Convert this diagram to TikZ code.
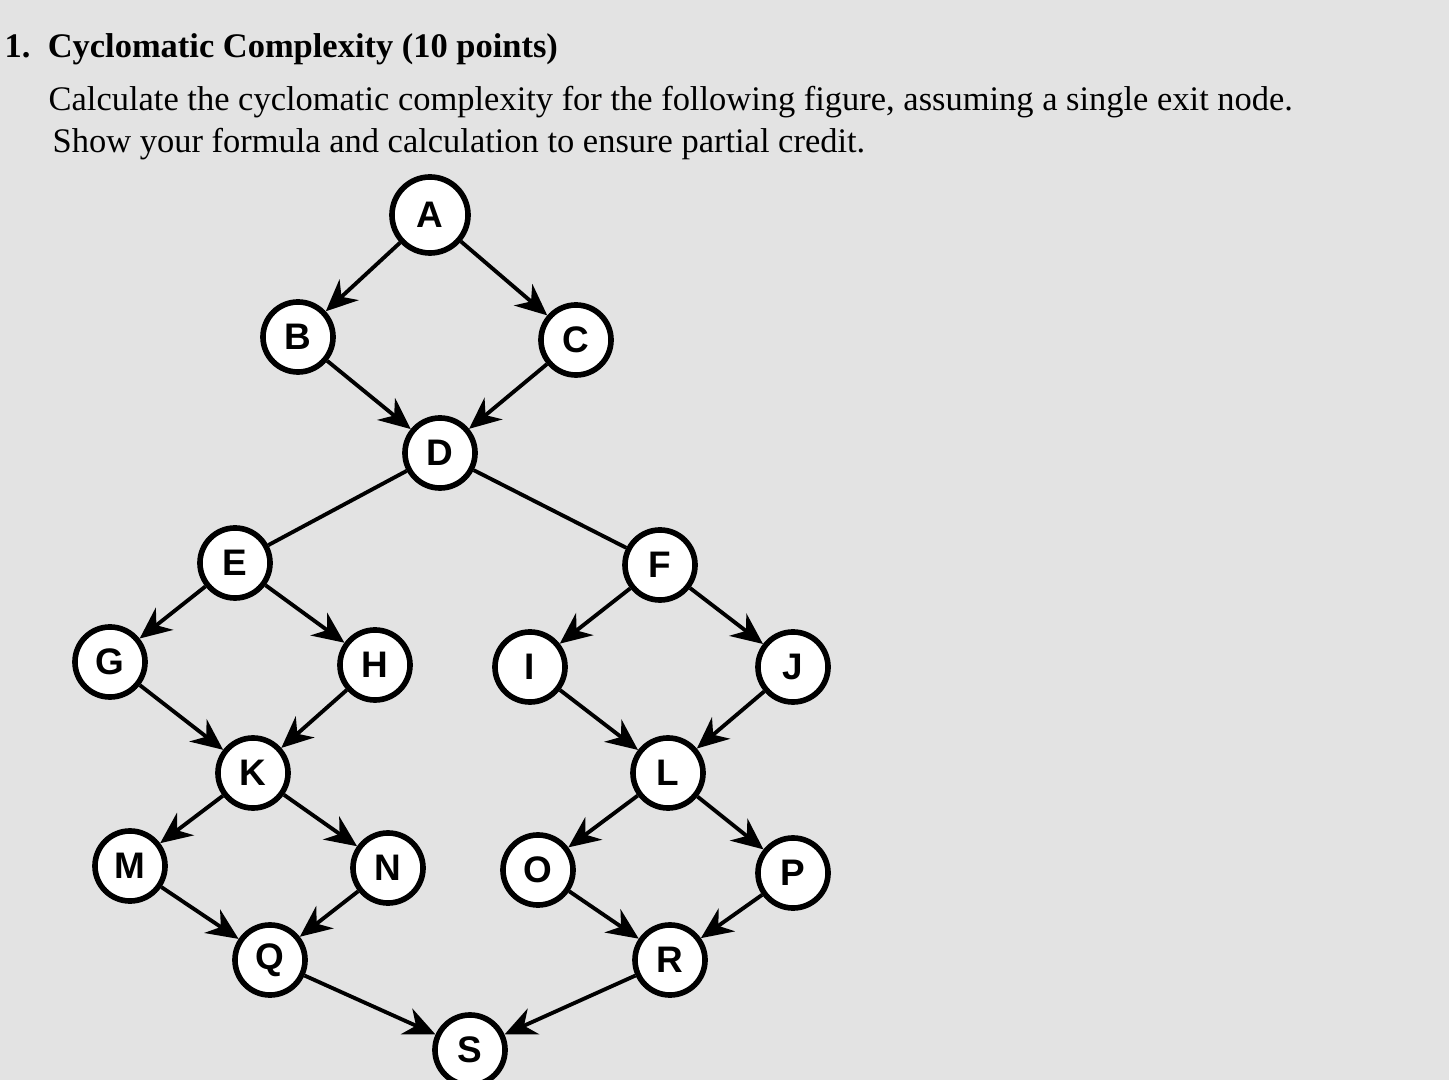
\documentclass[tikz,border=0pt]{standalone}
\usepackage{fontspec}
\setmainfont{Liberation Serif}
\newfontfamily\nodefont{Liberation Sans}
\usetikzlibrary{arrows.meta}
\begin{document}
\begin{tikzpicture}[x=0.01cm,y=-0.01cm,
  vtx/.style={circle,draw=black,line width=1.6pt,fill=white,minimum size=0.7cm,inner sep=0pt,font=\nodefont\bfseries\fontsize{10.5}{10.5}\selectfont},
  edge/.style={line width=1.1pt,-{Stealth[length=9pt,width=8pt]}},
  plain/.style={line width=1.1pt}]
\fill[gray!22] (0,0) rectangle (1449,1080);
\useasboundingbox (0,0) rectangle (1449,1080);
\node[anchor=base west,font=\bfseries\fontsize{9.8}{10}\selectfont,inner sep=0pt] (t0) at (4,58) {1.\ \ Cyclomatic Complexity (10 points)};
\node[anchor=base west,font=\fontsize{9.8}{10}\selectfont,inner sep=0pt] (t1) at (48,111) {Calculate the cyclomatic complexity for the following figure, assuming a single exit node.};
\node[anchor=base west,font=\fontsize{9.8}{10}\selectfont,inner sep=0pt] (t2) at (52,153) {Show your formula and calculation to ensure partial credit.};
\node[vtx,minimum size=0.76cm] (A) at (430,215) {A};
\node[vtx] (B) at (298,337) {B};
\node[vtx] (C) at (576,340) {C};
\node[vtx] (D) at (440,453) {D};
\node[vtx] (E) at (235,563) {E};
\node[vtx] (F) at (660,565) {F};
\node[vtx] (G) at (110,662) {G};
\node[vtx] (H) at (375,665) {H};
\node[vtx] (I) at (530,667) {I};
\node[vtx] (J) at (793,667) {J};
\node[vtx] (K) at (253,773) {K};
\node[vtx] (L) at (668,773) {L};
\node[vtx] (M) at (130,866) {M};
\node[vtx] (N) at (388,868) {N};
\node[vtx] (O) at (538,870) {O};
\node[vtx] (P) at (793,873) {P};
\node[vtx] (Q) at (270,960) {Q};
\node[vtx] (R) at (670,960) {R};
\node[vtx] (S) at (470,1050) {S};
\foreach \a/\b in {A/B,A/C,B/D,C/D,E/G,E/H,F/I,F/J,G/K,H/K,I/L,J/L,K/M,K/N,L/O,L/P,M/Q,N/Q,O/R,P/R,Q/S,R/S}
  \draw[edge] (\a) -- (\b);
\draw[plain] (D) -- (E);
\draw[plain] (D) -- (F);
\end{tikzpicture}
\end{document}
